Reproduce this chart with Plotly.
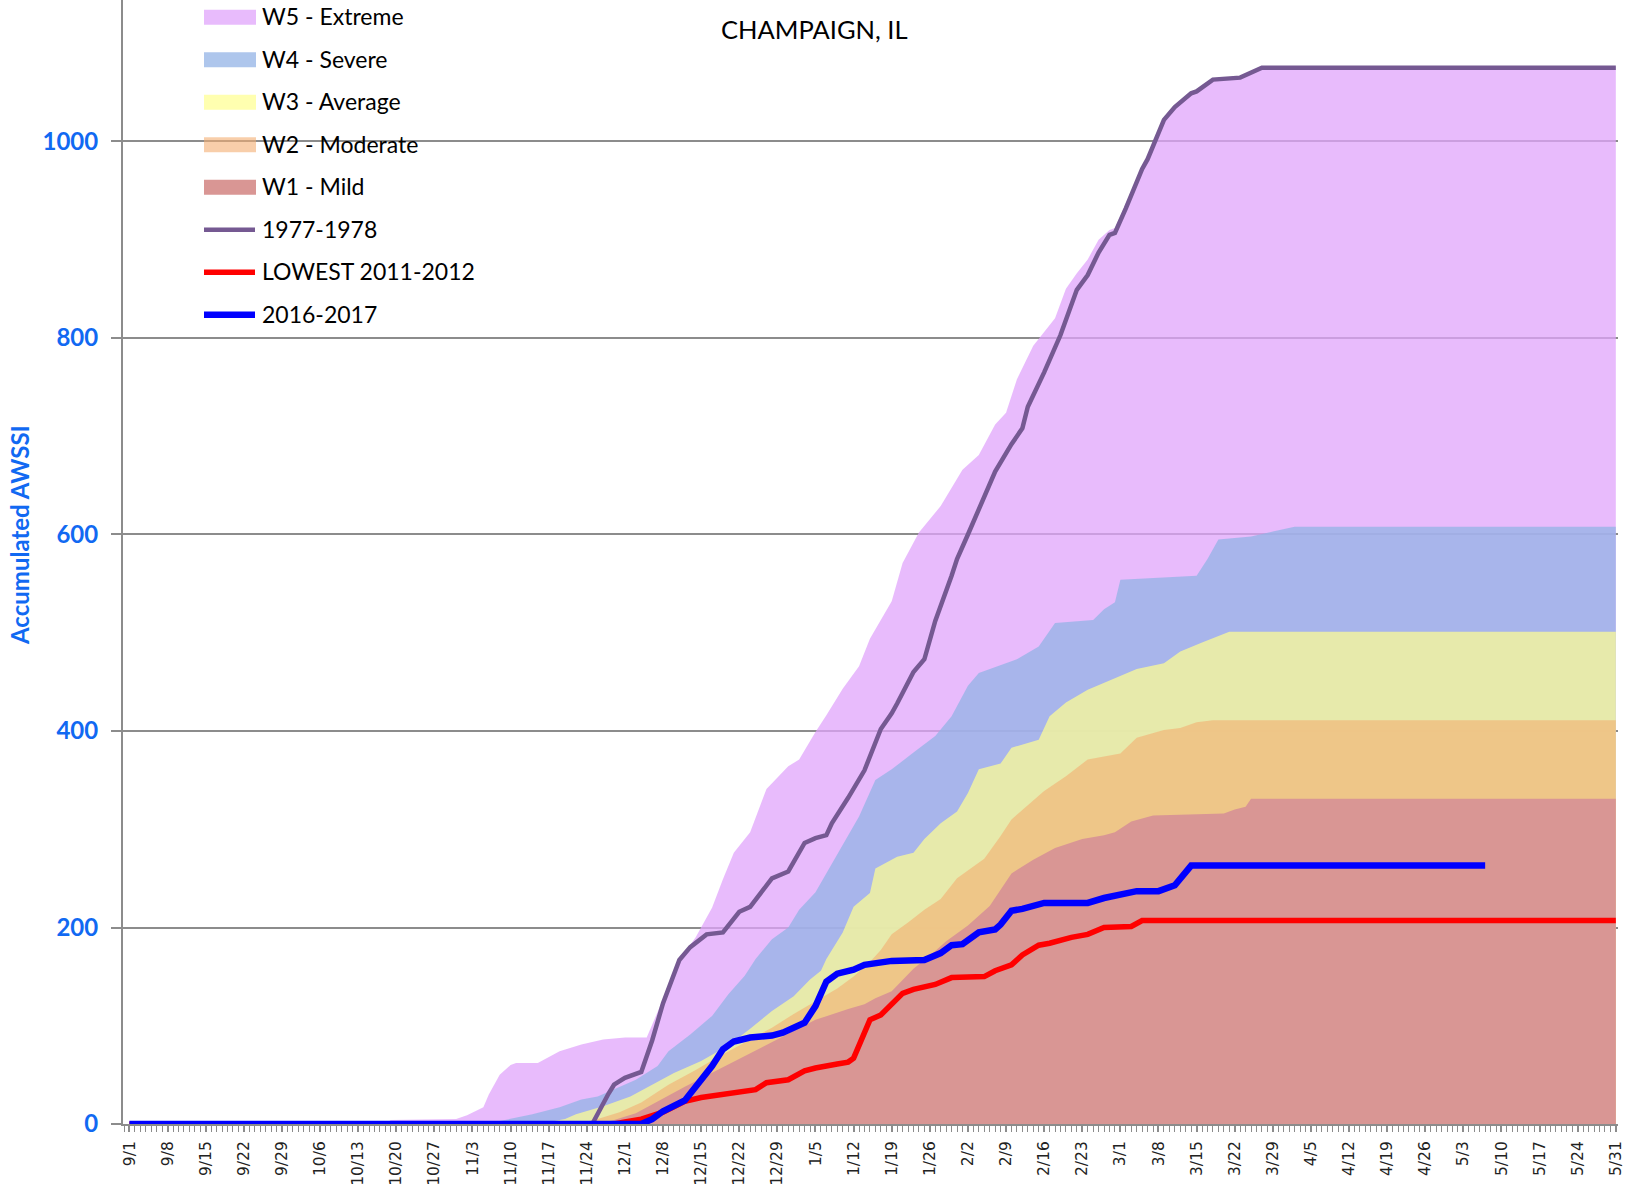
import pandas as pd
import plotly.graph_objects as go

# Season axis runs 9/1 .. 5/31 on a leap-year calendar (includes 2/29)
SEASON_START = pd.Timestamp("2015-09-01")

tick_labels = ["9/1", "9/8", "9/15", "9/22", "9/29", "10/6", "10/13", "10/20", "10/27",
               "11/3", "11/10", "11/17", "11/24", "12/1", "12/8", "12/15", "12/22", "12/29",
               "1/5", "1/12", "1/19", "1/26", "2/2", "2/9", "2/16", "2/23", "3/1", "3/8",
               "3/15", "3/22", "3/29", "4/5", "4/12", "4/19", "4/26", "5/3", "5/10", "5/17",
               "5/24", "5/31"]
y_ticks = [0, 200, 400, 600, 800, 1000]

# Category thresholds: day offset from 9/1 and accumulated AWSSI
w5_day = [0, 47, 48, 60, 62, 64, 65, 66, 68, 70, 71, 75, 79, 83, 87, 91, 95, 97, 99, 101, 104,
          107, 109, 111, 114, 117, 121, 123, 126, 128, 131, 134, 136, 140, 142, 145, 149, 153,
          156, 159, 161, 163, 166, 170, 172, 174, 176, 178, 180, 181, 183, 186, 187, 189, 190,
          192, 195, 196, 199, 204, 206, 208, 273]
w5_val = [0, 0, 4, 5, 9, 14, 17, 30, 50, 60, 62, 62, 74, 81, 86, 88, 88, 114, 140, 167, 190,
          220, 249, 276, 297, 341, 364, 371, 399, 416, 443, 466, 494, 532, 571, 602, 629, 666,
          681, 712, 724, 758, 792, 820, 850, 866, 880, 900, 910, 912, 937, 974, 983, 1011, 1023,
          1036, 1050, 1052, 1064, 1066, 1071, 1076, 1076]

w4_day = [0, 66, 68, 74, 79, 83, 86, 90, 93, 97, 99, 103, 107, 110, 113, 115, 118, 121, 123,
          126, 129, 132, 134, 137, 140, 144, 148, 151, 154, 156, 163, 167, 170, 177, 179, 181,
          182, 196, 198, 200, 206, 210, 214, 273]
w4_val = [0, 0, 3, 10, 17, 25, 28, 38, 45, 59, 74, 91, 110, 132, 151, 168, 188, 200, 218,
          236, 265, 294, 313, 350, 361, 378, 395, 415, 446, 459, 473, 486, 510, 513, 524, 531,
          554, 558, 575, 595, 598, 603, 608, 608]

w3_day = [0, 75, 77, 80, 82, 87, 92, 96, 100, 105, 110, 114, 118, 122, 125, 127, 128, 131,
          133, 136, 137, 141, 144, 146, 149, 152, 154, 156, 160, 162, 167, 169, 172, 176, 180,
          185, 190, 193, 197, 202, 273]
w3_val = [0, 0, 2, 5, 10, 18, 28, 40, 52, 64, 80, 97, 115, 130, 147, 156, 168, 195, 221,
          235, 260, 272, 276, 290, 306, 318, 337, 361, 367, 383, 391, 415, 429, 442, 451,
          463, 469, 481, 490, 501, 501]

w2_day = [0, 82, 86, 90, 94, 99, 104, 108, 112, 118, 122, 126, 130, 133, 136, 138, 140, 143,
          146, 149, 152, 157, 160, 162, 166, 168, 172, 176, 182, 185, 190, 193, 196, 199, 273]
w2_val = [0, 0, 5, 12, 22, 40, 55, 68, 80, 98, 112, 125, 138, 150, 165, 177, 193, 205,
          218, 229, 250, 270, 293, 310, 330, 339, 354, 371, 377, 393, 401, 403, 409, 411, 411]

w1_day = [0, 86, 89, 93, 97, 102, 108, 114, 120, 126, 132, 135, 137, 140, 144, 148, 150, 154,
          158, 160, 162, 166, 170, 175, 179, 181, 184, 188, 201, 203, 205, 206, 273]
w1_val = [0, 0, 4, 11, 23, 38, 55, 72, 89, 106, 117, 122, 128, 135, 158, 176, 186, 202,
          222, 238, 255, 269, 281, 290, 294, 297, 308, 314, 316, 320, 323, 331, 331]

# Individual seasons
s1977_day = [0, 85, 88, 89, 91, 94, 96, 98, 101, 103, 106, 109, 112, 114, 118, 121, 124, 126,
             128, 129, 132, 135, 138, 140, 141, 144, 146, 148, 151, 152, 154, 157, 159, 162,
             164, 165, 168, 171, 174, 176, 178, 180, 181, 183, 186, 187, 189, 190, 192, 195,
             196, 199, 204, 206, 208, 273]
s1977_val = [0, 0, 31, 40, 47, 53, 85, 123, 167, 180, 193, 195, 216, 221, 250, 257, 286, 291,
             294, 306, 332, 360, 402, 418, 428, 460, 473, 512, 558, 575, 600, 637, 664, 692,
             708, 730, 765, 803, 849, 864, 887, 905, 907, 932, 972, 982, 1010, 1022, 1035, 1049,
             1051, 1063, 1065, 1070, 1075, 1075]

s2011_day = [0, 89, 91, 94, 98, 102, 105, 111, 115, 117, 121, 124, 126, 130, 132, 133, 135,
             136, 138, 142, 144, 148, 151, 157, 159, 162, 164, 167, 169, 173, 176, 179, 184,
             186, 273]
s2011_val = [0, 0, 2, 5, 12, 23, 27, 32, 35, 42, 45, 54, 57, 61, 63, 67, 93, 106, 111, 133,
             137, 142, 149, 150, 156, 162, 172, 182, 184, 190, 193, 200, 201, 207, 207]

s2016_day = [0, 94, 96, 98, 102, 104, 106, 107, 109, 111, 114, 118, 120, 122, 124, 126, 128,
             130, 133, 135, 140, 146, 149, 151, 153, 156, 159, 160, 162, 164, 168, 176, 179,
             185, 189, 192, 195, 249]
s2016_val = [0, 0, 5, 13, 24, 38, 54, 59, 76, 84, 88, 90, 93, 98, 103, 120, 145, 153, 157,
             162, 166, 167, 174, 182, 183, 195, 198, 203, 217, 219, 225, 225, 230, 237, 237,
             243, 263, 263]

bands = [
    ("W5 - Extreme", w5_day, w5_val, "rgba(224,164,251,0.75)"),
    ("W4 - Severe", w4_day, w4_val, "rgba(147,179,230,0.75)"),
    ("W3 - Average", w3_day, w3_val, "rgba(255,255,145,0.72)"),
    ("W2 - Moderate", w2_day, w2_val, "rgba(243,174,113,0.6)"),
    ("W1 - Mild", w1_day, w1_val, "rgb(217,150,148)"),
]
seasons = [
    ("1977-1978", s1977_day, s1977_val, "rgb(117,89,146)", 4.5),
    ("LOWEST 2011-2012", s2011_day, s2011_val, "rgb(255,0,0)", 5.5),
    ("2016-2017", s2016_day, s2016_val, "rgb(0,0,255)", 6.5),
]


def to_dates(days):
    return [SEASON_START + pd.Timedelta(days=d) for d in days]


fig = go.Figure()
for name, days, vals, color in bands:
    fig.add_trace(go.Scatter(x=to_dates(days), y=vals, name=name, mode="lines",
                             line=dict(width=0, color=color), fill="tozeroy",
                             fillcolor=color, showlegend=False, hoverinfo="skip"))
for name, days, vals, color, width in seasons:
    fig.add_trace(go.Scatter(x=to_dates(days), y=vals, name=name, mode="lines",
                             line=dict(width=width, color=color),
                             showlegend=False))

# Layout geometry (pixels)
W, H = 1637, 1186
ML, MR, MT, MB = 123, 19, 0, 62
PW, PH = W - ML - MR, H - MT - MB


def px(x):
    return (x - ML) / PW


def py(y):
    return 1 - (y - MT) / PH


AXIS_GREY = "#8c8c8c"
LABEL_BLUE = "#1169f2"

tick_vals = [SEASON_START + pd.Timedelta(days=7 * i) for i in range(len(tick_labels))]
x_lo = SEASON_START - pd.Timedelta(days=1.19)
x_hi = SEASON_START + pd.Timedelta(days=273.4)

fig.update_layout(
    template="none",
    width=W, height=H,
    margin=dict(l=ML, r=MR, t=MT, b=MB),
    paper_bgcolor="white", plot_bgcolor="white",
    showlegend=False,
    font=dict(family="Lato", color="black"),
    xaxis=dict(
        type="date", range=[x_lo, x_hi], automargin=False,
        tickmode="array", tickvals=tick_vals, ticktext=tick_labels,
        tickangle=-90, tickfont=dict(family="DejaVu Sans", size=15.5, color="#222222"),
        ticks="outside", ticklen=6, tickwidth=1.5, tickcolor=AXIS_GREY,
        ticklabelstandoff=3,
        showline=True, linecolor=AXIS_GREY, linewidth=2,
        showgrid=False, zeroline=False,
        minor=dict(tick0=SEASON_START, dtick=86400000, ticks="outside", ticklen=6,
                   tickwidth=1.2, tickcolor=AXIS_GREY, showgrid=False),
    ),
    yaxis=dict(
        range=[0, 1144], automargin=False,
        tickmode="array", tickvals=y_ticks,
        tickfont=dict(family="Lato", size=24, color=LABEL_BLUE, weight="bold"),
        ticks="outside", ticklen=10, tickwidth=1.5, tickcolor=AXIS_GREY,
        ticklabelstandoff=8,
        showline=True, linecolor=AXIS_GREY, linewidth=2,
        showgrid=True, gridcolor=AXIS_GREY, gridwidth=1.5, zeroline=False,
    ),
)

annotations = [
    dict(text="CHAMPAIGN, IL", x=px(814), y=py(29), xref="paper", yref="paper",
         xanchor="center", yanchor="middle", showarrow=False,
         font=dict(family="Lato", size=25.5, color="black")),
    dict(text="Accumulated AWSSI", x=px(19), y=py(535), xref="paper", yref="paper",
         xanchor="center", yanchor="middle", showarrow=False, textangle=-90,
         font=dict(family="Lato", size=24, color=LABEL_BLUE, weight="bold")),
]

# Legend: swatches for the bands, short strokes for the seasons
shapes = []
row_y0, row_gap = 17.3, 42.5
items = [(n, c, "band", None) for n, _, _, c in bands] + \
        [(n, c, "line", w) for n, _, _, c, w in seasons]
for i, (name, color, kind, width) in enumerate(items):
    yc = row_y0 + i * row_gap
    if kind == "band":
        shapes.append(dict(type="rect", xref="paper", yref="paper",
                           x0=px(204), x1=px(256), y0=py(yc - 7.5), y1=py(yc + 7.5),
                           fillcolor=color, line=dict(width=0)))
    else:
        shapes.append(dict(type="line", xref="paper", yref="paper",
                           x0=px(204), x1=px(255), y0=py(yc), y1=py(yc),
                           line=dict(color=color, width=width)))
    annotations.append(dict(text=name, x=px(260), y=py(yc - 1), xref="paper", yref="paper",
                            xanchor="left", yanchor="middle", showarrow=False,
                            font=dict(family="Lato", size=23, color="black")))

fig.update_layout(annotations=annotations, shapes=shapes)
fig.write_html("out.html")
